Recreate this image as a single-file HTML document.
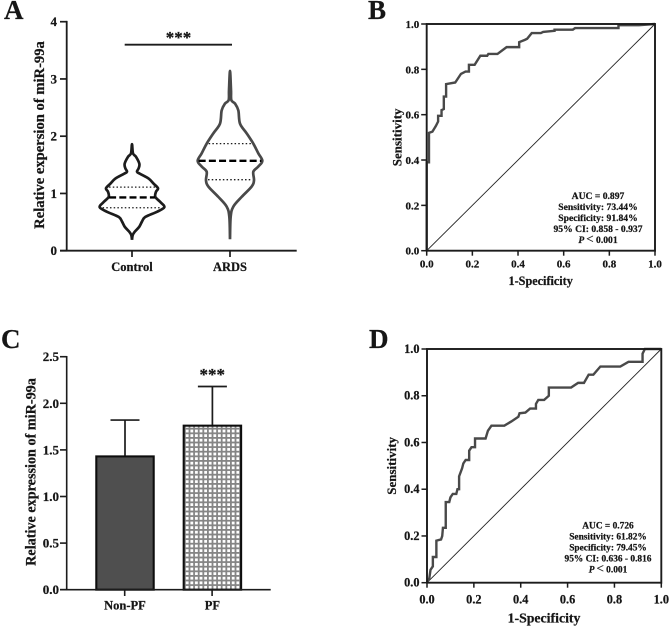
<!DOCTYPE html>
<html lang="en">
<head>
<meta charset="utf-8">
<title>miR-99a expression and ROC curves</title>
<style>
html,body{margin:0;padding:0;background:#fff;}
svg{display:block;}
text{font-family:"Liberation Serif",serif;font-weight:bold;fill:#141414;stroke:#141414;stroke-width:0.22px;}
</style>
</head>
<body>
<svg id="fig" xmlns="http://www.w3.org/2000/svg" width="669" height="626" viewBox="0 0 669 626">
<defs>
<filter id="soft" x="-2%" y="-2%" width="104%" height="104%"><feGaussianBlur stdDeviation="0.3"/></filter>
<pattern id="grid" width="4.6" height="4.6" patternUnits="userSpaceOnUse">
<rect width="4.6" height="4.6" fill="#fff"/>
<rect x="0" width="1.8" height="4.6" fill="#858585"/>
<rect y="0" width="4.6" height="1.8" fill="#858585"/>
</pattern>
</defs>
<g id="root" filter="url(#soft)"></g>
</svg>
<script>
// Panel A data
const violinCategories = ['Control', 'ARDS'];
const controlLevels = [0.19,0.27,0.33,0.42,0.51,0.59,0.68,0.76,0.85,0.94,1.03,1.09,1.17,1.26,1.34,1.38,1.44,1.52,1.64,1.70,1.86];
const controlDensity = [0,2,8,22,30,40,75,97,85,70,72,78,65,50,25,15,20,22,12,3,0];
const ardsLevels = [0.2,0.59,0.77,0.94,1.12,1.23,1.38,1.47,1.57,1.70,1.87,2.05,2.22,2.45,2.57,2.63,2.8,3.14];
const ardsDensity = [0,2,10,35,65,72,70,85,97,85,70,50,30,25,15,4,3,0];
const controlQuartiles = [0.75, 0.93, 1.11];
const ardsQuartiles = [1.24, 1.57, 1.87];
const violinTicks = [0,1,2,3,4];
// Panel C data
const barCategories = ['Non-PF', 'PF'];
const barMeans = [1.43, 1.76];
const barErrorTops = [1.82, 2.18];
const barTicks = ['0.0','0.5','1.0','1.5','2.0','2.5'];
// ROC data
const rocTicks = ['0.0','0.2','0.4','0.6','0.8','1.0'];
const rocBFpr = [0,0,.01,.01,.025,.04,.05,.05,.065,.065,.075,.075,.085,.085,.125,.15,.17,.185,.185,.21,.235,.265,.27,.31,.35,.405,.405,.43,.44,.46,.5,.51,.56,.56,.64,.65,.84,.84,.93,1];
const rocBTpr = [0,.39,.39,.52,.525,.55,.57,.595,.595,.62,.625,.68,.68,.735,.742,.78,.79,.79,.82,.82,.86,.86,.868,.868,.898,.898,.92,.93,.935,.96,.96,.965,.97,.975,.975,.982,.982,.995,.995,1];
const rocDFpr = [0,.01,.015,.025,.025,.04,.04,.06,.065,.068,.08,.08,.095,.1,.11,.125,.13,.137,.137,.15,.155,.165,.18,.18,.19,.205,.205,.25,.26,.275,.33,.36,.39,.395,.42,.44,.465,.465,.475,.5,.52,.52,.615,.645,.67,.69,.71,.74,.825,.86,.92,.92,.93,1];
const rocDTpr = [0,.02,.055,.07,.11,.11,.18,.185,.2,.235,.235,.345,.345,.365,.38,.38,.4,.4,.455,.49,.51,.525,.525,.565,.58,.58,.617,.617,.65,.672,.672,.69,.71,.725,.728,.745,.745,.765,.782,.782,.8,.835,.835,.855,.855,.89,.89,.925,.925,.945,.945,.98,1,1];
const rocBNotes = ['AUC = 0.897','Sensitivity: 73.44%','Specificity: 91.84%','95% CI: 0.858 - 0.937'];
const rocDNotes = ['AUC = 0.726','Sensitivity: 61.82%','Specificity: 79.45%','95% CI: 0.636 - 0.816'];

const NS = 'http://www.w3.org/2000/svg';
const root = document.getElementById('root');
const INK = '#1a1a1a';
const GREY = '#4a4a4a';

function add(tag, attrs, name) {
  const el = document.createElementNS(NS, tag);
  for (const k in attrs) el.setAttribute(k, attrs[k]);
  
  
  root.appendChild(el);
  return el;
}
function line(x1, y1, x2, y2, w, name, color, dash) {
  const attrs = {x1, y1, x2, y2, stroke: color || INK, 'stroke-width': w};
  if (dash) attrs['stroke-dasharray'] = dash;
  return add('line', attrs, name);
}
function label(x, y, str, size, name, anchor, rot) {
  const attrs = {x, y, 'font-size': size, 'text-anchor': anchor || 'middle'};
  if (rot) attrs.transform = 'rotate(-90 ' + x + ' ' + y + ')';
  const el = add('text', attrs, name);
  el.textContent = str;
  return el;
}
function linear(d0, d1, r0, r1) {
  return v => r0 + (v - d0) * (r1 - r0) / (d1 - d0);
}

// Panel letters
label(4, 19, 'A', 27, 'panel-label-a', 'start');
label(368, 19, 'B', 27, 'panel-label-b', 'start');
label(1, 348, 'C', 27, 'panel-label-c', 'start');
label(369, 348, 'D', 27, 'panel-label-d', 'start');

// Panel A
(function () {
  const y = linear(0, 4, 250.7, 21.7);
  const centers = [132, 230];
  const wScale = 1 / 3;
  line(66.7, y(4) - 0.8, 66.7, y(0) + 0.8, 1.8, 'violin-y-axis');
  line(60, y(0), 296.7, y(0), 1.8, 'violin-x-axis');
  violinTicks.forEach(t => {
    line(60, y(t), 66.7, y(t), 1.7, 'violin-y-tick');
    label(57, y(t) + 4.5, String(t), 13, 'violin-y-tick-label', 'end');
  });
  violinCategories.forEach((c, i) => {
    line(centers[i], y(0), centers[i], 257, 1.7, 'violin-x-tick');
    label(centers[i], 271, c, 12.5, 'violin-x-tick-label-' + c.toLowerCase());
  });
  label(44, 135, 'Relative expersion of miR-99a', 14.6, 'violin-y-axis-title', 'middle', true);
  line(124.7, 44.7, 232, 44.7, 1.8, 'significance-bracket');
  label(178.5, 43, '***', 17, 'violin-significance-stars');

  function smooth(pts) {
    let d = 'M' + pts[0][0] + ' ' + pts[0][1];
    for (let i = 0; i < pts.length - 1; i++) {
      const p0 = pts[Math.max(i - 1, 0)], p1 = pts[i], p2 = pts[i + 1], p3 = pts[Math.min(i + 2, pts.length - 1)];
      const c1x = p1[0] + (p2[0] - p0[0]) / 6, c1y = p1[1] + (p2[1] - p0[1]) / 6;
      const c2x = p2[0] - (p3[0] - p1[0]) / 6, c2y = p2[1] - (p3[1] - p1[1]) / 6;
      d += 'C' + c1x + ' ' + c1y + ' ' + c2x + ' ' + c2y + ' ' + p2[0] + ' ' + p2[1];
    }
    return d;
  }
  function violin(cx, levels, density, quart, color, nm) {
    const right = levels.map((l, i) => [cx + density[i] * wScale, y(l)]);
    const left = levels.map((l, i) => [cx - density[i] * wScale, y(l)]).reverse();
    add('path', {d: smooth(right.concat(left.slice(1))), fill: 'none', stroke: color, 'stroke-width': 2.7, 'stroke-linejoin': 'round'}, nm + '-violin-outline');
    const half = q => {
      let k = 0;
      while (k < levels.length - 2 && levels[k + 1] < q) k++;
      const t = (q - levels[k]) / (levels[k + 1] - levels[k]);
      return (density[k] + t * (density[k + 1] - density[k])) * wScale;
    };
    line(cx - half(quart[0]) + 2, y(quart[0]), cx + half(quart[0]) - 2, y(quart[0]), 1.3, nm + '-lower-quartile', INK, '1.5 2.2');
    line(cx - half(quart[1]) + 1, y(quart[1]), cx + half(quart[1]) - 1, y(quart[1]), 2.4, nm + '-median', '#000', '7 3.2');
    line(cx - half(quart[2]) + 2, y(quart[2]), cx + half(quart[2]) - 2, y(quart[2]), 1.3, nm + '-upper-quartile', INK, '1.5 2.2');
  }
  violin(centers[0], controlLevels, controlDensity, controlQuartiles, '#1c1c1c', 'control');
  violin(centers[1], ardsLevels, ardsDensity, ardsQuartiles, '#484848', 'ards');
})();

// Panel C
(function () {
  const y = linear(0, 2.5, 589.7, 356.7);
  const lefts = [96.3, 183.7];
  const barW = 57.4;
  const fills = ['#505050', 'url(#grid)'];
  barCategories.forEach((c, i) => {
    const cx = lefts[i] + barW / 2;
    line(cx, y(barMeans[i]), cx, y(barErrorTops[i]), 1.7, 'bar-error-stem-' + c.toLowerCase());
    line(cx - 14.5, y(barErrorTops[i]), cx + 14.5, y(barErrorTops[i]), 1.7, 'bar-error-cap-' + c.toLowerCase());
    add('rect', {x: lefts[i], y: y(barMeans[i]), width: barW, height: y(0) - y(barMeans[i]), fill: fills[i], stroke: '#111', 'stroke-width': 2.1}, 'bar-' + c.toLowerCase());
    line(cx - 0.3, y(0), cx - 0.3, 596, 1.6, 'bar-x-tick');
    label(cx, 609.5, c, 12.5, 'bar-x-tick-label-' + c.toLowerCase());
  });
  line(66.7, y(2.5) - 0.7, 66.7, y(0) + 0.7, 1.6, 'bar-y-axis');
  line(60, y(0), 270.7, y(0), 1.6, 'bar-x-axis');
  barTicks.forEach(t => {
    line(60, y(+t), 66.7, y(+t), 1.6, 'bar-y-tick');
    label(59, y(+t) + 4.5, t, 13, 'bar-y-tick-label', 'end');
  });
  label(35.5, 472, 'Relative expression of miR-99a', 14.2, 'bar-y-axis-title', 'middle', true);
  label(212.3, 380, '***', 17, 'bar-significance-stars');
})();

// ROC panels
function roc(cfg) {
  const x = linear(0, 1, cfg.x0, cfg.x1);
  const y = linear(0, 1, cfg.y0, cfg.y1);
  const p = cfg.name;
  line(cfg.x0, cfg.y0, cfg.x1, cfg.y1, 0.9, p + '-reference-diagonal', '#222');
  const pts = cfg.fpr.map((f, i) => x(f) + ',' + y(cfg.tpr[i])).join(' ');
  add('polyline', {points: pts, fill: 'none', stroke: GREY, 'stroke-width': 2.4, 'stroke-linejoin': 'miter'}, p + '-roc-curve');
  add('rect', {x: cfg.x0, y: cfg.y1, width: cfg.x1 - cfg.x0, height: cfg.y0 - cfg.y1, fill: 'none', stroke: INK, 'stroke-width': 1.9}, p + '-plot-frame');
  rocTicks.forEach(t => {
    line(x(+t), cfg.y0, x(+t), cfg.y0 + 5, 1.5, p + '-x-tick');
    line(cfg.x0 - 5.5, y(+t), cfg.x0, y(+t), 1.5, p + '-y-tick');
    label(x(+t), cfg.y0 + cfg.xLabelDy, t, cfg.tickSize, p + '-x-tick-label');
    label(cfg.x0 - 7.5, y(+t) + 4, t, cfg.tickSize, p + '-y-tick-label', 'end');
  });
  label(cfg.titleX, cfg.y0 + cfg.xTitleDy, '1-Specificity', cfg.titleSize, p + '-x-axis-title');
  label(cfg.yTitleX, (cfg.y0 + cfg.y1) / 2, 'Sensitivity', 13, p + '-y-axis-title', 'middle', true);
  cfg.notes.forEach((n, i) => {
    label(cfg.noteX, cfg.noteY + i * 11, n, cfg.noteSize, p + '-stat-line');
  });
  const pv = add('text', {x: cfg.noteX, y: cfg.noteY + 44, 'font-size': cfg.noteSize, 'text-anchor': 'middle', 'xml:space': 'preserve'}, p + '-p-value');
  const it = document.createElementNS(NS, 'tspan');
  it.setAttribute('font-style', 'italic');
  it.textContent = 'P ';
  pv.appendChild(it);
  const lt = document.createElementNS(NS, 'tspan');
  lt.setAttribute('font-size', '13');
  lt.setAttribute('font-weight', 'normal');
  lt.textContent = '<';
  pv.appendChild(lt);
  pv.appendChild(document.createTextNode('  0.001'));
}
roc({name: 'roc-b', x0: 426.7, x1: 655, y0: 250.7, y1: 24, fpr: rocBFpr, tpr: rocBTpr, notes: rocBNotes, noteX: 598, noteY: 199, noteSize: 9.6, xLabelDy: 17, xTitleDy: 34.5, titleX: 540.7, titleSize: 12.2, yTitleX: 401.5, tickSize: 11});
roc({name: 'roc-d', x0: 427, x1: 661.3, y0: 582.7, y1: 349, fpr: rocDFpr, tpr: rocDTpr, notes: rocDNotes, noteX: 608, noteY: 528.5, noteSize: 9.4, xLabelDy: 20.6, xTitleDy: 40, titleX: 544, titleSize: 13.8, yTitleX: 396, tickSize: 12.3});
</script>
</body>
</html>
